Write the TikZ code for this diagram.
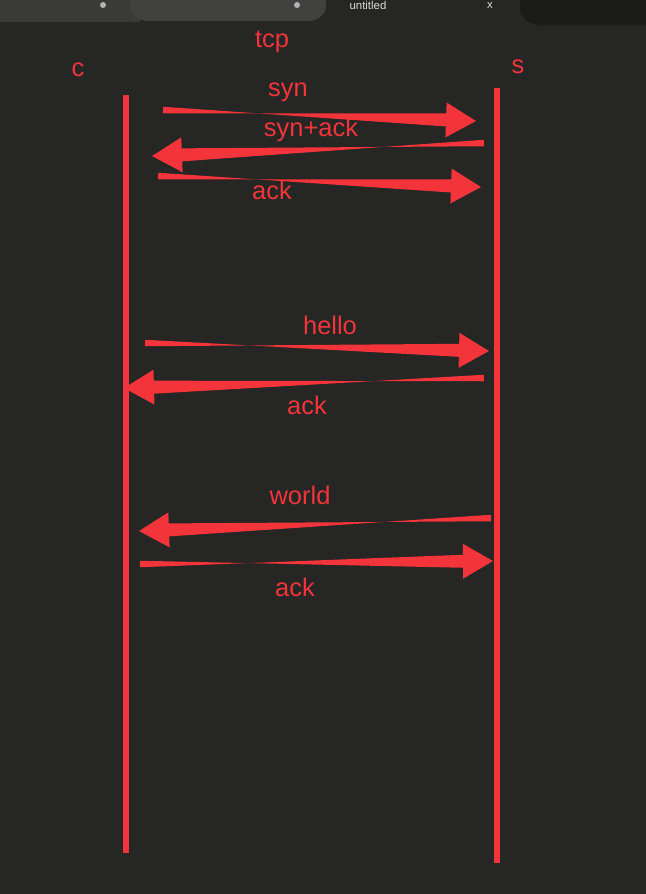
\documentclass[tikz,border=0pt]{standalone}
\usepackage{fontspec}
\setmainfont{Liberation Sans}
\usetikzlibrary{calc}

\definecolor{bgdark}{HTML}{262624}
\definecolor{tabgrey}{HTML}{3A3A38}
\definecolor{tablight}{HTML}{414140}
\definecolor{tabblack}{HTML}{1B1B1A}
\definecolor{msgred}{HTML}{F3343A}

\tikzset{
  lifeline/.style={msgred,line width=3.4pt},
  msgfill/.style={fill=msgred},
  msglabel/.style={text=msgred,font=\fontsize{14.5}{16}\selectfont,inner sep=0pt},
  tabtext/.style={text=white!85!black,font=\fontsize{6.5}{7}\selectfont,inner sep=0pt},
}

% tapered message arrow from tail (#1) to tip (#2)
\newcommand{\msgarrow}[2]{%
  \coordinate (base) at ($(#2)!0.6cm!(#1)$);
  \fill[msgfill] ($(#1)!0.065cm!90:(#2)$) -- ($(base)!0.13cm!-90:(#2)$)
    -- ($(base)!0.35cm!-90:(#2)$) -- (#2) -- ($(base)!0.35cm!90:(#2)$)
    -- ($(base)!0.13cm!90:(#2)$) -- ($(#1)!0.065cm!-90:(#2)$) -- cycle;
}

\begin{document}
\begin{tikzpicture}[x=0.02cm,y=-0.02cm]
  \fill[bgdark] (0,0) rectangle (646,894);
  \useasboundingbox (0,0) rectangle (646,894);

  % tab strip
  \fill[tabgrey] (0,0) rectangle (140,22);
  \fill[tablight] (130,0) -- (130,6) to[out=-90,in=180] (148,21) -- (308,21)
    to[out=0,in=-90] (326,6) -- (326,0) -- cycle;
  \fill[tabblack] (520,0) -- (520,8) to[out=-90,in=180] (540,25) -- (646,25) -- (646,0) -- cycle;
  \fill[white!70!black] (103,5) circle [radius=3];
  \fill[white!70!black] (297,5) circle [radius=3];
  \node[tabtext] (tabname) at (368,5) {untitled};
  \node[tabtext] (tabclose) at (490,5) {x};

  % lifelines
  \coordinate (ctop) at (126,95);
  \coordinate (cbot) at (126,853);
  \coordinate (stop) at (497,88);
  \coordinate (sbot) at (497,863);
  \draw[lifeline] (ctop) -- (cbot);
  \draw[lifeline] (stop) -- (sbot);

  \node[msglabel] (title) at (272,42) {tcp};
  \node[msglabel] (client) at (78,70) {c};
  \node[msglabel] (server) at (518,67) {s};

  % handshake
  \coordinate (m1a) at (163,110); \coordinate (m1b) at (476,121);
  \coordinate (m2a) at (484,143); \coordinate (m2b) at (152,156);
  \coordinate (m3a) at (158,176); \coordinate (m3b) at (481,187);
  \msgarrow{m1a}{m1b}
  \msgarrow{m2a}{m2b}
  \msgarrow{m3a}{m3b}
  \node[msglabel] (syn) at (288,92) {syn};
  \node[msglabel] (synack) at (311,130) {syn+ack};
  \node[msglabel] (ack1) at (272,190) {ack};

  % data
  \coordinate (m4a) at (145,343); \coordinate (m4b) at (489,351);
  \coordinate (m5a) at (484,378); \coordinate (m5b) at (124,388);
  \msgarrow{m4a}{m4b}
  \msgarrow{m5a}{m5b}
  \node[msglabel] (hello) at (330,325) {hello};
  \node[msglabel] (ack2) at (307,405) {ack};

  \coordinate (m6a) at (491,518); \coordinate (m6b) at (139,531);
  \coordinate (m7a) at (140,564); \coordinate (m7b) at (493,561);
  \msgarrow{m6a}{m6b}
  \msgarrow{m7a}{m7b}
  \node[msglabel] (world) at (300,495) {world};
  \node[msglabel] (ack3) at (295,587) {ack};
\end{tikzpicture}
\end{document}
